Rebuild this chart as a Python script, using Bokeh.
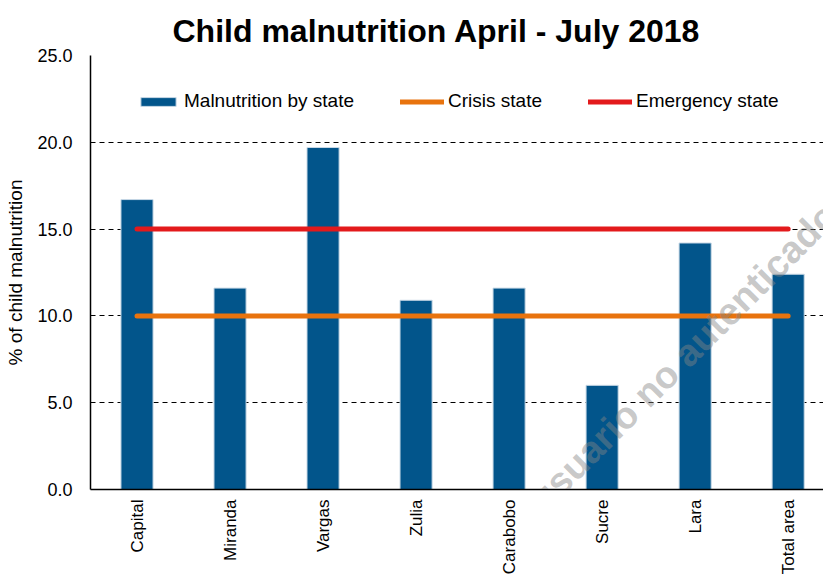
import math
from bokeh.plotting import figure
from bokeh.models import Range1d, FixedTicker, NumeralTickFormatter, HTMLLabel
from bokeh.embed import file_html
from bokeh.resources import INLINE

categories = ["Capital", "Miranda", "Vargas", "Zulia", "Carabobo", "Sucre", "Lara", "Total area"]
malnutrition = [16.7, 11.6, 19.7, 10.9, 11.6, 6.0, 14.2, 12.4]
crisis = [10.0, 10.0, 10.0, 10.0, 10.0, 10.0, 10.0, 10.0]
emergency = [15.0, 15.0, 15.0, 15.0, 15.0, 15.0, 15.0, 15.0]
y_ticks = [0, 5, 10, 15, 20, 25]

FONT = "Liberation Sans"
x_pos = list(range(len(categories)))

p = figure(width=823, height=583, x_range=Range1d(-0.5, 7.38), y_range=Range1d(0, 25),
           output_backend="svg", toolbar_location=None,
           min_border_left=90, min_border_top=55, min_border_bottom=94, min_border_right=0)
p.outline_line_color = None

p.title.text = "Child malnutrition April - July 2018"
p.title.text_font = FONT
p.title.text_font_size = "32px"
p.title.text_font_style = "bold"
p.title.text_color = "black"
p.title.align = "left"
p.title.offset = 82
p.title.standoff = 13

p.vbar(x=x_pos, top=malnutrition, width=0.345, fill_color="#02558B", line_color="#c9d9e6",
       line_width=1, legend_label="Malnutrition by state")
p.line(x_pos, crisis, line_width=5, line_color="#E8730E", line_cap="round", legend_label="Crisis state")
p.line(x_pos, emergency, line_width=5, line_color="#E31A1C", line_cap="round", legend_label="Emergency state")

# watermark (semi-transparent, over the plot)
wm = HTMLLabel(x=5.39, y=4.93, text="do por usuario no autenticado", angle=math.pi / 4,
               text_align="center", text_baseline="middle", text_font=FONT,
               text_font_size="38px", text_font_style="bold", text_color="#858585",
               text_alpha=0.45)
p.add_layout(wm)

# axes
p.xaxis.ticker = FixedTicker(ticks=x_pos)
p.xaxis.major_label_overrides = {i: c for i, c in enumerate(categories)}
p.xaxis.major_label_orientation = math.pi / 2
p.xaxis.major_label_text_font = FONT
p.xaxis.major_label_text_font_size = "17px"
p.xaxis.major_label_text_color = "black"
p.xaxis.major_label_standoff = 10
p.xaxis.major_tick_out = 0
p.xaxis.major_tick_in = 0
p.xaxis.minor_tick_out = 0
p.xaxis.minor_tick_in = 0
p.xaxis.axis_line_color = "black"
p.xaxis.axis_line_width = 1.5

p.yaxis.ticker = FixedTicker(ticks=y_ticks)
p.yaxis.formatter = NumeralTickFormatter(format="0.0")
p.yaxis.major_label_text_font = FONT
p.yaxis.major_label_text_font_size = "18px"
p.yaxis.major_label_text_color = "black"
p.yaxis.major_label_standoff = 18
p.yaxis.major_tick_out = 0
p.yaxis.major_tick_in = 0
p.yaxis.minor_tick_out = 0
p.yaxis.minor_tick_in = 0
p.yaxis.axis_line_color = "black"
p.yaxis.axis_line_width = 1.5
p.yaxis.axis_label = "% of child malnutrition"
p.yaxis.axis_label_text_font = FONT
p.yaxis.axis_label_text_font_size = "19px"
p.yaxis.axis_label_text_font_style = "normal"
p.yaxis.axis_label_text_color = "black"
p.yaxis.axis_label_standoff = 8

p.xgrid.grid_line_color = None
p.ygrid.grid_line_color = "black"
p.ygrid.grid_line_dash = "5 4"
p.ygrid.grid_line_width = 1

lg = p.legend[0]
lg.orientation = "horizontal"
lg.location = (46, 377)
lg.glyph_width = 44
lg.glyph_height = 11
lg.label_standoff = 4
lg.spacing = 46
lg.padding = 0
lg.margin = 0
lg.border_line_alpha = 0
lg.background_fill_alpha = 0
lg.label_text_font = FONT
lg.label_text_font_size = "19px"
lg.label_text_color = "black"

open("out.html", "w").write(file_html(p, INLINE))
